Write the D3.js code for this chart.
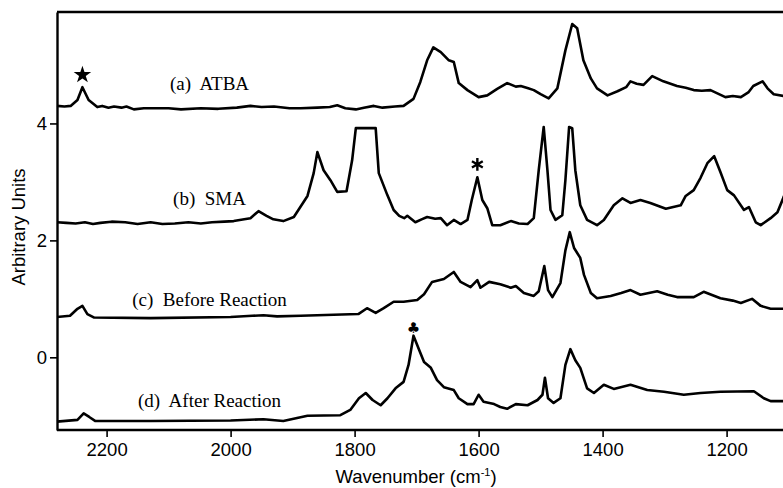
<!DOCTYPE html>
<html>
<head>
    <meta charset="utf-8">
    <title>FTIR Spectra</title>
    <script src="https://d3js.org/d3.v7.min.js"></script>
    <style>
        html, body {
            margin: 0;
            background: white;
        }

        .tick text {
            font-family: "Liberation Sans", Arial, sans-serif;
            font-size: 18.5px;
        }

        .label {
            font-family: "Liberation Serif", "Times New Roman", serif;
            font-size: 19px;
            white-space: pre;
        }
    </style>
</head>
<body>
    <svg id="svg"></svg>
    <script>
        // [wavenumber, absorbance]
        const atba = [
            [2280, 4.30], [2268, 4.29], [2258, 4.30], [2247, 4.40], [2239, 4.62], [2229, 4.40],
            [2215, 4.28], [2207, 4.30], [2197, 4.27], [2188, 4.29], [2176, 4.27], [2168, 4.29],
            [2156, 4.24], [2140, 4.26], [2100, 4.26], [2080, 4.24], [2048, 4.26], [2020, 4.25],
            [1990, 4.27], [1968, 4.30], [1950, 4.28], [1930, 4.29], [1905, 4.26], [1887, 4.26],
            [1860, 4.27], [1840, 4.28], [1828, 4.31], [1815, 4.26], [1798, 4.24], [1785, 4.27],
            [1769, 4.30], [1755, 4.27], [1735, 4.29], [1721, 4.30], [1705, 4.42],
            [1694, 4.71], [1683, 5.08], [1673, 5.30], [1661, 5.22], [1648, 5.08], [1640, 5.05],
            [1632, 4.69], [1618, 4.57], [1600, 4.45], [1586, 4.48], [1570, 4.59], [1554, 4.69],
            [1540, 4.63], [1532, 4.64], [1520, 4.60], [1511, 4.57], [1500, 4.50], [1487, 4.43],
            [1473, 4.60], [1460, 5.25], [1449, 5.70], [1441, 5.63], [1431, 5.08], [1419, 4.77],
            [1409, 4.60], [1392, 4.48], [1376, 4.55], [1362, 4.62], [1355, 4.72], [1345, 4.68],
            [1334, 4.66], [1320, 4.81], [1302, 4.72], [1280, 4.64], [1266, 4.61], [1253, 4.57],
            [1240, 4.56], [1226, 4.57], [1214, 4.51], [1202, 4.45], [1190, 4.47], [1177, 4.45],
            [1165, 4.53], [1157, 4.64], [1142, 4.72], [1134, 4.60], [1124, 4.50], [1108, 4.47],
            [1100, 4.46]
        ];

        const sma = [
            [2280, 2.31], [2265, 2.30], [2250, 2.29], [2235, 2.31], [2222, 2.28], [2210, 2.30],
            [2192, 2.32], [2170, 2.31], [2150, 2.28], [2129, 2.31], [2110, 2.28], [2090, 2.29],
            [2068, 2.31], [2048, 2.29], [2030, 2.31], [2010, 2.32], [1995, 2.33], [1978, 2.36],
            [1968, 2.38], [1955, 2.50], [1942, 2.42], [1931, 2.36], [1915, 2.33], [1898, 2.40],
            [1876, 2.76], [1866, 3.15], [1860, 3.51], [1850, 3.20], [1839, 3.03], [1828, 2.83],
            [1813, 2.84], [1804, 3.37], [1798, 3.92], [1766, 3.92], [1761, 3.15], [1747, 2.77],
            [1737, 2.52], [1728, 2.42], [1720, 2.38], [1715, 2.42], [1702, 2.31], [1692, 2.36],
            [1683, 2.40], [1670, 2.37], [1661, 2.38], [1651, 2.26], [1640, 2.35], [1629, 2.28],
            [1618, 2.35], [1611, 2.69], [1602, 3.08], [1594, 2.69], [1586, 2.55], [1578, 2.26],
            [1565, 2.26], [1548, 2.33], [1535, 2.29], [1521, 2.28], [1511, 2.38], [1503, 3.20],
            [1495, 3.94], [1489, 3.20], [1484, 2.52], [1476, 2.35], [1465, 2.43], [1460, 3.03],
            [1454, 3.94], [1449, 3.92], [1444, 3.20], [1436, 2.60], [1425, 2.35], [1409, 2.26],
            [1398, 2.35], [1382, 2.60], [1368, 2.72], [1355, 2.64], [1339, 2.69], [1323, 2.64],
            [1298, 2.54], [1274, 2.60], [1266, 2.76], [1253, 2.86], [1242, 3.07], [1231, 3.32],
            [1220, 3.44], [1210, 3.17], [1199, 2.86], [1188, 2.77], [1172, 2.52], [1164, 2.57],
            [1153, 2.31], [1145, 2.26], [1129, 2.38], [1118, 2.48], [1108, 2.74], [1100, 2.98]
        ];

        const before = [
            [2280, 0.69], [2259, 0.71], [2247, 0.83], [2239, 0.88], [2231, 0.74], [2220, 0.68],
            [2129, 0.67], [2000, 0.69], [1965, 0.71], [1947, 0.72], [1925, 0.70], [1887, 0.71],
            [1794, 0.74], [1780, 0.84], [1766, 0.76], [1753, 0.84], [1737, 0.95], [1721, 0.95],
            [1699, 0.98], [1688, 1.08], [1675, 1.29], [1656, 1.34], [1640, 1.46], [1629, 1.29],
            [1613, 1.20], [1602, 1.32], [1597, 1.19], [1583, 1.29], [1565, 1.25], [1548, 1.19],
            [1540, 1.22], [1527, 1.10], [1511, 1.05], [1503, 1.13], [1494, 1.56], [1488, 1.15],
            [1481, 1.03], [1468, 1.27], [1460, 1.83], [1453, 2.14], [1446, 1.87], [1436, 1.70],
            [1430, 1.41], [1419, 1.10], [1409, 1.01], [1387, 1.05], [1370, 1.10], [1355, 1.15],
            [1339, 1.07], [1312, 1.13], [1295, 1.07], [1280, 1.03], [1253, 1.03], [1237, 1.12],
            [1210, 1.01], [1190, 0.97], [1177, 0.93], [1159, 1.00], [1145, 0.88], [1129, 0.83],
            [1108, 0.83], [1100, 0.83]
        ];

        const after = [
            [2280, -1.10], [2247, -1.07], [2237, -0.96], [2228, -1.02], [2218, -1.09],
            [2129, -1.09], [2000, -1.08], [1947, -1.06], [1915, -1.09], [1876, -1.00],
            [1823, -0.99], [1807, -0.90], [1793, -0.70], [1782, -0.61], [1771, -0.73],
            [1758, -0.82], [1747, -0.70], [1734, -0.53], [1721, -0.42], [1713, -0.13],
            [1705, 0.37], [1696, 0.13], [1688, -0.08], [1677, -0.18], [1667, -0.39],
            [1656, -0.51], [1640, -0.56], [1632, -0.70], [1618, -0.80], [1608, -0.80],
            [1600, -0.64], [1592, -0.76], [1575, -0.80], [1565, -0.85], [1554, -0.88],
            [1540, -0.80], [1521, -0.82], [1505, -0.73], [1497, -0.64], [1493, -0.35],
            [1488, -0.70], [1479, -0.78], [1468, -0.70], [1460, -0.13], [1452, 0.14],
            [1444, -0.05], [1436, -0.18], [1425, -0.53], [1414, -0.61], [1398, -0.47],
            [1382, -0.54], [1355, -0.47], [1328, -0.56], [1301, -0.59], [1269, -0.64],
            [1242, -0.61], [1210, -0.59], [1156, -0.58], [1140, -0.70], [1129, -0.75],
            [1108, -0.75], [1100, -0.75]
        ];

        const series = [atba, sma, before, after];
        const labels = ["(a)  ATBA", "(b)  SMA", "(c)  Before Reaction", "(d)  After Reaction"];
        const labelY = [4.57, 2.60, 0.87, -0.85];
        const labelX = 2034;

        // peak markers: [wavenumber, value]
        const starMark = [2239, 4.83];
        const asteriskMark = [1602, 3.30];
        const clubMark = [1705, 0.50];

        const xTicks = [2200, 2000, 1800, 1600, 1400, 1200];
        const yTicks = [0, 2, 4];

        const width = 783;
        const height = 488;
        const margins = { top: 12, left: 57, bottom: 58 };

        const svg = d3.select("#svg")
            .attr("width", width)
            .attr("height", height);

        const x = d3.scaleLinear()
            .domain([2280, 1100])
            .range([margins.left, margins.left + 1180 * 0.62]);

        const y = d3.scaleLinear()
            .domain([-1.243, 5.906])
            .range([height - margins.bottom, margins.top]);

        const line = d3.line()
            .x(d => x(d[0]))
            .y(d => y(d[1]));

        svg.append("g")
            .selectAll("path")
            .data(series)
            .enter()
            .append("path")
            .attr("fill", "none")
            .attr("stroke", "black")
            .attr("stroke-width", 2.6)
            .attr("stroke-linejoin", "round")
            .attr("d", line);

        // frame
        svg.append("line")
            .attr("x1", x(2280)).attr("x2", width + 10)
            .attr("y1", y.range()[1]).attr("y2", y.range()[1])
            .attr("stroke", "black").attr("stroke-width", 2.4);

        const xAxis = svg.append("g")
            .attr("transform", `translate(0, ${y.range()[0]})`)
            .call(d3.axisBottom(x).tickValues(xTicks).tickFormat(d3.format("d"))
                .tickSize(7).tickPadding(6).tickSizeOuter(0));

        const yAxis = svg.append("g")
            .attr("transform", `translate(${margins.left}, 0)`)
            .call(d3.axisLeft(y).tickValues(yTicks).tickSize(7).tickPadding(3).tickSizeOuter(0));

        [xAxis, yAxis].forEach(g => {
            g.select(".domain").attr("stroke-width", 2.4);
            g.selectAll(".tick line").attr("stroke-width", 1.6);
            g.selectAll(".tick text").attr("fill", "black");
        });
        xAxis.select(".domain").attr("d", `M${x(2280)},0H${width + 10}`);

        svg.selectAll(".label")
            .data(labels)
            .enter()
            .append("text")
            .attr("class", "label")
            .attr("x", x(labelX))
            .attr("y", (d, i) => y(labelY[i]))
            .attr("text-anchor", "middle")
            .text(d => d);

        svg.append("path")
            .attr("d", d3.symbol(d3.symbolStar, 95)())
            .attr("transform", `translate(${x(starMark[0])}, ${y(starMark[1])})`)
            .attr("fill", "black");

        svg.append("path")
            .attr("d", d3.symbol(d3.symbolAsterisk, 110)())
            .attr("transform", `translate(${x(asteriskMark[0])}, ${y(asteriskMark[1])})`)
            .attr("fill", "none")
            .attr("stroke", "black")
            .attr("stroke-width", 2.4);

        svg.append("text")
            .attr("x", x(clubMark[0]))
            .attr("y", y(clubMark[1]))
            .attr("text-anchor", "middle")
            .attr("dominant-baseline", "central")
            .style("font-family", "DejaVu Sans")
            .style("font-size", "15px")
            .text("\u2663");

        // axis titles
        const xTitle = svg.append("text")
            .attr("x", 416)
            .attr("y", 483)
            .attr("text-anchor", "middle")
            .style("font-family", "Liberation Sans, Arial, sans-serif")
            .style("font-size", "18.5px");
        xTitle.append("tspan").text("Wavenumber (cm");
        xTitle.append("tspan").attr("dy", -7).style("font-size", "11px").text("-1");
        xTitle.append("tspan").attr("dy", 7).text(")");

        svg.append("text")
            .attr("transform", `translate(25, 227) rotate(-90)`)
            .attr("text-anchor", "middle")
            .style("font-family", "Liberation Sans, Arial, sans-serif")
            .style("font-size", "18.5px")
            .text("Arbitrary Units");
    </script>
</body>
</html>
